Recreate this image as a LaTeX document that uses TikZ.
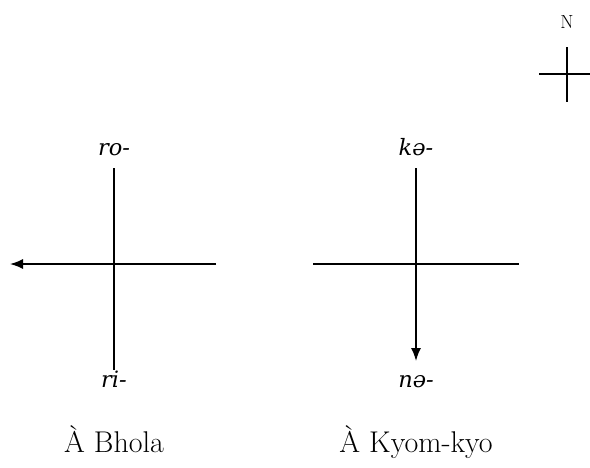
\documentclass[tikz,border=0pt]{standalone}
\usepackage{fontspec}
\newfontfamily\labfont{DejaVu Serif}
\usetikzlibrary{arrows.meta}
\begin{document}
\begin{tikzpicture}[x=1pt,y=-1pt,
  axisline/.style={line width=1.5pt,line cap=butt},
  arrline/.style={axisline,-{Latex[length=13pt,width=10pt]}},
  dirlbl/.style={anchor=base,inner sep=0pt,font=\labfont\itshape\fontsize{22.5}{26}\selectfont},
  townlbl/.style={anchor=base,inner sep=0pt,font=\fontsize{30}{34}\selectfont},
  northlbl/.style={anchor=base,inner sep=0pt,font=\fontsize{19}{22}\selectfont}]
\useasboundingbox (0,0) rectangle (590,467);
% left cross
\coordinate (Lt) at (114,168);
\coordinate (Lb) at (114,370);
\coordinate (Ll) at (10,264);
\coordinate (Lr) at (216,264);
\draw[axisline] (Lt) -- (Lb);
\draw[arrline] (Lr) -- (Ll);
\node[dirlbl] (ro) at (114,155) {ro-};
\node[dirlbl] (ri) at (114,387) {ri-};
\node[townlbl] (bhola) at (114,452) {À Bhola};
% right cross
\coordinate (Rt) at (416,168);
\coordinate (Rb) at (416,361);
\coordinate (Rl) at (313,264);
\coordinate (Rr) at (519,264);
\draw[axisline] (Rl) -- (Rr);
\draw[arrline] (Rt) -- (Rb);
\node[dirlbl] (ke) at (416,155) {kə-};
\node[dirlbl] (ne) at (416,387) {nə-};
\node[townlbl] (kyom) at (416,452) {À Kyom-kyo};
% north marker
\coordinate (Nt) at (567,47);
\coordinate (Nb) at (567,102);
\coordinate (Nl) at (539,74);
\coordinate (Nr) at (590,74);
\draw[axisline] (Nt) -- (Nb);
\draw[axisline] (Nl) -- (Nr);
\node[northlbl] (N) at (567,28) {N};
\end{tikzpicture}
\end{document}
